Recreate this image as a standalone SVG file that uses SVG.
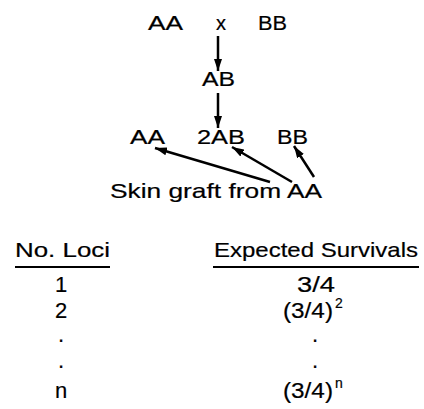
<svg xmlns="http://www.w3.org/2000/svg" width="424" height="409" viewBox="0 0 424 409">
<style>
text{font-family:"Liberation Sans",Arial,sans-serif;fill:#000;stroke:#000;stroke-width:0.2;}
.t{font-size:20px;}
.b{font-size:21px;}
.n{font-size:22px;}
.c{text-anchor:middle;}
.sup{font-size:14px;}
.conn line{stroke:#000;stroke-width:2.5;}
.ul{stroke:#000;stroke-width:2;}
</style>
<defs>
<marker id="ah" viewBox="0 0 12 8" refX="12" refY="4" markerWidth="12" markerHeight="8" markerUnits="userSpaceOnUse" orient="auto">
<path d="M0,0 L12,4 L0,8 Z" fill="#000"/>
</marker>
</defs>
<g id="parents">
<text class="t" x="148" y="30" textLength="35" lengthAdjust="spacingAndGlyphs">AA</text>
<text class="t c" x="221" y="30">x</text>
<text class="t" x="258" y="30" textLength="29" lengthAdjust="spacingAndGlyphs">BB</text>
</g>
<g id="f1">
<text class="t" x="202" y="86" textLength="33" lengthAdjust="spacingAndGlyphs">AB</text>
</g>
<g id="f2-AA">
<text class="t" x="130" y="144" textLength="35" lengthAdjust="spacingAndGlyphs">AA</text>
</g>
<g id="f2-2AB">
<text class="t" x="197" y="144" textLength="48" lengthAdjust="spacingAndGlyphs">2AB</text>
</g>
<g id="f2-BB">
<text class="t" x="277" y="144" textLength="31" lengthAdjust="spacingAndGlyphs">BB</text>
</g>
<g id="graft">
<text class="b" x="110" y="198" textLength="212" lengthAdjust="spacingAndGlyphs">Skin graft from AA</text>
</g>
<g id="connectors" class="conn">
<line x1="218" y1="36" x2="218" y2="71" marker-end="url(#ah)"/>
<line x1="218" y1="93" x2="218" y2="128" marker-end="url(#ah)"/>
<line x1="270" y1="182" x2="155" y2="148" marker-end="url(#ah)"/>
<line x1="292" y1="182" x2="232" y2="147" marker-end="url(#ah)"/>
<line x1="314" y1="177" x2="294" y2="146" marker-end="url(#ah)"/>
</g>
<g id="table">
<text class="b" x="15" y="257" textLength="95" lengthAdjust="spacingAndGlyphs">No. Loci</text>
<line class="ul" x1="15" y1="267" x2="110" y2="267"/>
<text class="b" x="214" y="257" textLength="204" lengthAdjust="spacingAndGlyphs">Expected Survivals</text>
<line class="ul" x1="213" y1="267" x2="419" y2="267"/>
<text class="n c" x="61" y="292">1</text>
<text class="n" x="297" y="292" textLength="38" lengthAdjust="spacingAndGlyphs">3/4</text>
<text class="n c" x="61" y="318">2</text>
<text class="n" x="283" y="318"><tspan textLength="50" lengthAdjust="spacingAndGlyphs">(3/4)</tspan><tspan class="sup" dx="2" dy="-10">2</tspan></text>
<text class="n c" x="61" y="342">.</text>
<text class="n c" x="315" y="342">.</text>
<text class="n c" x="61" y="368">.</text>
<text class="n c" x="315" y="368">.</text>
<text class="n c" x="61" y="398">n</text>
<text class="n" x="283" y="398"><tspan textLength="50" lengthAdjust="spacingAndGlyphs">(3/4)</tspan><tspan class="sup" dx="2" dy="-10">n</tspan></text>
</g>
</svg>
